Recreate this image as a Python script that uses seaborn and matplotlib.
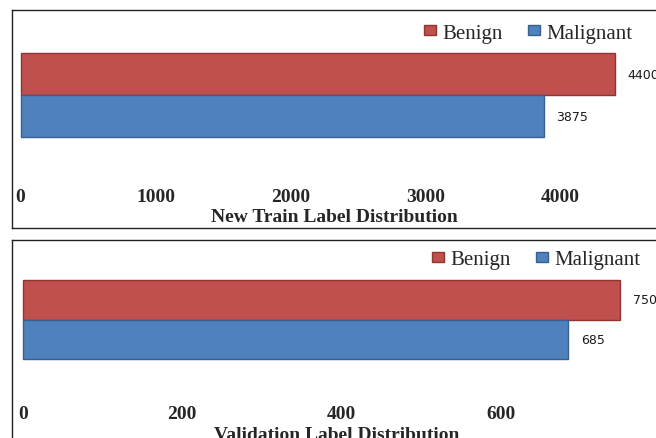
import matplotlib
matplotlib.use("Agg")
import matplotlib.pyplot as plt
import pandas as pd
import seaborn as sns

# Label counts per split
labels = ["Benign", "Malignant"]
train_counts = [4400, 3875]
val_counts = [750, 685]
train_ticks = [0, 1000, 2000, 3000, 4000]
val_ticks = [0, 200, 400, 600]
train_title = "New Train Label Distribution"
val_title = "Validation Label Distribution"

colors = {"Benign": "#C0504D", "Malignant": "#4F81BD"}
edges = {"Benign": "#8E3532", "Malignant": "#35608F"}

sns.set_style("white")
plt.rcParams["font.family"] = ["Liberation Serif", "DejaVu Serif"]

W, H = 656, 439
fig = plt.figure(figsize=(W / 100, H / 100), dpi=100)


def px_axes(left, top, right, bottom):
    return fig.add_axes([left / W, 1 - bottom / H, (right - left) / W, (bottom - top) / H])


def panel(ax, counts, ticks, title, xlim, ylim, tick_pad, label_xy, legend_xy):
    df = pd.DataFrame({"split": ["all"] * len(labels), "label": labels, "count": counts})
    sns.barplot(data=df, x="count", y="split", hue="label", hue_order=labels,
                palette=colors, saturation=1, orient="h", width=0.8, ax=ax,
                legend=True)
    for cont, lab in zip(ax.containers, labels):
        for bar in cont:
            bar.set_edgecolor(edges[lab])
            bar.set_linewidth(1.0)
        ax.bar_label(cont, fmt="%d", padding=9, fontsize=9,
                     family="DejaVu Sans", color="#1a1a1a")
    ax.set_xlim(*xlim)
    ax.set_ylim(*ylim)
    ax.set_yticks([])
    ax.set_ylabel("")
    ax.set_xticks(ticks)
    ax.set_xticklabels([str(t) for t in ticks], fontsize=14, fontweight="bold")
    ax.tick_params(axis="x", length=0, pad=tick_pad)
    ax.set_xlabel(title, fontsize=14, fontweight="bold")
    ax.xaxis.set_label_coords(*label_xy)
    ax.xaxis.label.set_va("center")
    for s in ax.spines.values():
        s.set_visible(True)
        s.set_color("#222222")
        s.set_linewidth(1.0)
    handles, _ = ax.get_legend_handles_labels()
    for h, lab in zip(handles, labels):
        h.set_edgecolor(edges[lab])
        h.set_linewidth(1.0)
    ax.legend(handles, labels, loc="center right", bbox_to_anchor=legend_xy,
              bbox_transform=fig.transFigure, ncol=2, frameon=False,
              fontsize=15, handlelength=0.6, handleheight=0.4,
              handletextpad=0.3, columnspacing=1.2, borderpad=0)


ax1 = px_axes(12, 11, 680, 229)
panel(ax1, train_counts, train_ticks, train_title,
      xlim=((12 - 20.5) / 0.135, (680 - 20.5) / 0.135),
      ylim=((229 - 96) / 105, -(96 - 11) / 105),
      tick_pad=-29, label_xy=(0.482, 0.052),
      legend_xy=(643 / W, 1 - 34 / H))

ax2 = px_axes(12, 241, 680, 460)
panel(ax2, val_counts, val_ticks, val_title,
      xlim=((12 - 23) / 0.796, (680 - 23) / 0.796),
      ylim=((460 - 320.5) / 98.75, -(320.5 - 241) / 98.75),
      tick_pad=-39, label_xy=(0.4865, 0.11),
      legend_xy=(651 / W, 1 - 261 / H))

fig.savefig("out.png", dpi=100)
